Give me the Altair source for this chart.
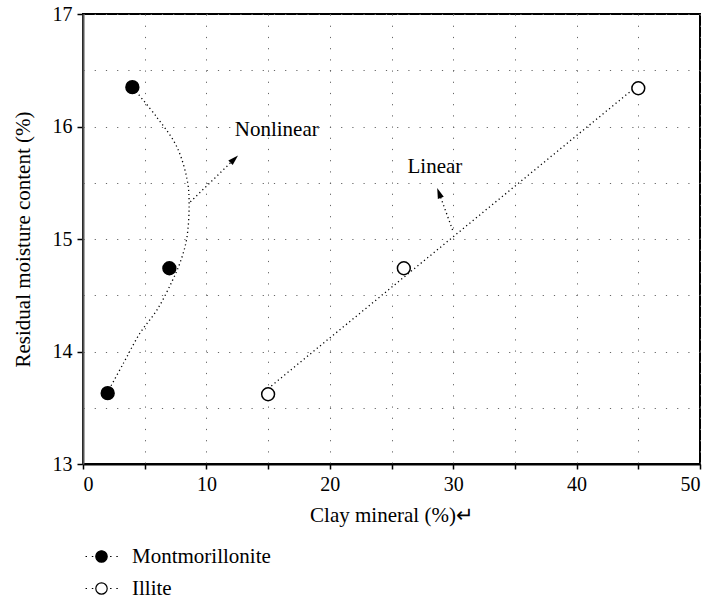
import altair as alt
import pandas as pd

# ---- data ----
series = ["Montmorillonite", "Illite"]
mont_clay = [2, 7, 4]
mont_moist = [13.63, 14.74, 16.35]
illite_clay = [15, 26, 45]
illite_moist = [13.62, 14.74, 16.34]

# nonlinear trend curve for Montmorillonite
curve_clay = [1.95, 3.3, 4.6, 6.0, 7.2, 7.9, 8.4, 8.6, 8.45, 7.6, 6.0, 4.0]
curve_moist = [13.63, 13.9, 14.16, 14.37, 14.62, 14.8, 15.0, 15.3, 15.52, 15.82, 16.08, 16.35]

label_text = ["Nonlinear", "Linear"]
label_clay = [12.3, 26.3]
label_moist = [15.97, 15.64]

arrow_clay = [8.7, 29.95]
arrow_moist = [15.33, 15.08]
arrow_clay2 = [12.26, 28.85]
arrow_moist2 = [15.71, 15.41]

x_ticks = [0, 5, 10, 15, 20, 25, 30, 35, 40, 45, 50]
y_ticks = [13, 13.5, 14, 14.5, 15, 15.5, 16, 16.5, 17]

FONT = "Liberation Serif"

pts = pd.DataFrame({
    "clay": mont_clay + illite_clay,
    "moist": mont_moist + illite_moist,
    "mineral": [series[0]] * len(mont_clay) + [series[1]] * len(illite_clay),
})
illite_df = pd.DataFrame({"clay": illite_clay, "moist": illite_moist})
curve_df = pd.DataFrame({"clay": curve_clay, "moist": curve_moist, "i": list(range(len(curve_clay)))})
labels_df = pd.DataFrame({"text": label_text, "clay": label_clay, "moist": label_moist})
arrows_df = pd.DataFrame({"clay": arrow_clay, "moist": arrow_moist,
                          "clay2": arrow_clay2, "moist2": arrow_moist2, "name": label_text})

xscale = alt.Scale(domain=[0, 50], nice=False, zero=False)
yscale = alt.Scale(domain=[13, 17], nice=False, zero=False)

grid_kw = dict(grid=True, gridDash=[1.2, 10], gridColor="#666", gridWidth=1)
font_kw = dict(labelFont=FONT, labelFontSize=20, labelColor="black",
               titleFont=FONT, titleFontSize=21, titleFontWeight="normal", titleColor="black")

x_enc = alt.X("clay:Q", scale=xscale, title="Clay mineral (%)↵",
              axis=alt.Axis(values=x_ticks,
                            labelExpr="datum.value % 10 === 0 ? format(datum.value, 'd') : ''",
                            tickSize=5, tickColor="black", tickWidth=1.5,
                            labelPadding=5, titlePadding=10,
                            domainColor="black", domainWidth=2, **grid_kw, **font_kw))
y_enc = alt.Y("moist:Q", scale=yscale, title="Residual moisture content (%)",
              axis=alt.Axis(values=y_ticks,
                            labelExpr="datum.value % 1 === 0 ? format(datum.value, 'd') : ''",
                            tickColor={"condition": {"test": "datum.value % 1 !== 0", "value": "transparent"},
                                       "value": "black"},
                            tickSize=6, tickWidth=1.5, labelPadding=5, titlePadding=19,
                            domainColor="#555", domainWidth=2, **grid_kw, **font_kw))

dotted = dict(color="black", strokeDash=[1.2, 3], strokeWidth=1.3)

curve = alt.Chart(curve_df).mark_line(interpolate="catmull-rom", **dotted).encode(
    x=x_enc, y=y_enc, order="i:Q")

linear = alt.Chart(illite_df).transform_regression(
    "clay", "moist", method="linear").mark_line(**dotted).encode(
    x=alt.X("clay:Q", scale=xscale), y=alt.Y("moist:Q", scale=yscale))

arrows = alt.Chart(arrows_df).mark_rule(**dotted).encode(
    x=alt.X("clay:Q", scale=xscale), y=alt.Y("moist:Q", scale=yscale),
    x2="clay2:Q", y2="moist2:Q")

head_path = "M0,-1L0.6,1L-0.6,1Z"
head1 = alt.Chart(arrows_df).transform_filter("datum.name === 'Nonlinear'").mark_point(
    shape=head_path, size=110, filled=True, color="black", opacity=1, angle=46).encode(
    x=alt.X("clay2:Q", scale=xscale), y=alt.Y("moist2:Q", scale=yscale))
head2 = alt.Chart(arrows_df).transform_filter("datum.name === 'Linear'").mark_point(
    shape=head_path, size=110, filled=True, color="black", opacity=1, angle=340).encode(
    x=alt.X("clay2:Q", scale=xscale), y=alt.Y("moist2:Q", scale=yscale))

texts = alt.Chart(labels_df).mark_text(
    align="left", baseline="middle", font=FONT, fontSize=21, color="black").encode(
    x=alt.X("clay:Q", scale=xscale), y=alt.Y("moist:Q", scale=yscale), text="text:N")

legend_symbol = ("M0.5,0A0.5,0.5,0,1,1,-0.5,0A0.5,0.5,0,1,1,0.5,0Z"
                 "M-1.4,0h0.13M-0.85,0h0.13M0.75,0h0.13M1.3,0h0.13")

points = alt.Chart(pts).mark_point(
    shape="circle", size=165, filled=True, stroke="black", strokeWidth=1.5, opacity=1).encode(
    x=alt.X("clay:Q", scale=xscale), y=alt.Y("moist:Q", scale=yscale),
    fill=alt.Fill("mineral:N",
                  scale=alt.Scale(domain=series, range=["black", "white"]),
                  legend=alt.Legend(title=None, orient="none", legendX=6, legendY=530,
                                    symbolType=legend_symbol, symbolSize=520,
                                    symbolStrokeColor="black", symbolStrokeWidth=1.2,
                                    symbolOpacity=1,
                                    labelFont=FONT, labelFontSize=21, labelColor="black",
                                    labelOffset=18, rowPadding=9)))

chart = alt.layer(curve, linear, arrows, head1, head2, texts, points).properties(
    width=617, height=450,
    background="white",
    autosize=alt.AutoSizeParams(type="none"),
    padding={"left": 83, "top": 14, "right": 9, "bottom": 135},
).configure(font=FONT).configure_view(stroke="black", strokeWidth=2).configure_text(
    font=FONT).configure_legend(labelFont=FONT)

chart.save("out.html", embed_options={"renderer": "svg", "actions": False})
